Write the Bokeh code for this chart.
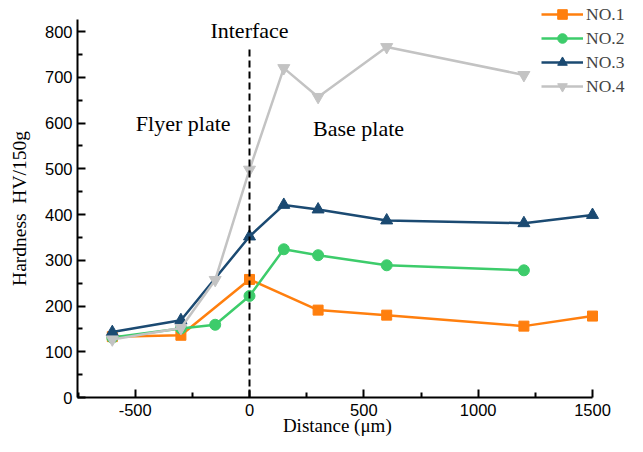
from bokeh.plotting import figure
from bokeh.models import Legend, LegendItem, FixedTicker, Range1d
from bokeh.core.properties import value
from bokeh.embed import file_html
from bokeh.resources import INLINE

# ---- data ----
x1 = [-600, -300, 0, 300, 600, 1200, 1500]
y1 = [133, 136, 258, 191, 180, 156, 178]

x2 = [-600, -300, -150, 0, 150, 300, 600, 1200]
y2 = [131, 151, 159, 222, 324, 311, 289, 278]

x3 = [-600, -300, 0, 150, 300, 600, 1200, 1500]
y3 = [143, 169, 352, 421, 411, 387, 381, 399]

x4 = [-600, -300, -150, 0, 150, 300, 600, 1200]
y4 = [127, 152, 257, 498, 720, 657, 766, 705]

series_names = ["NO.1", "NO.2", "NO.3", "NO.4"]
colors = ["#ff7f0e", "#3dcc6b", "#1b4a72", "#c3c3c3"]
markers = ["square", "circle", "triangle", "inverted_triangle"]
marker_sizes = [10, 11, 12, 12]

x_ticks = [-500, 0, 500, 1000, 1500]
x_tick_labels = ["-500", "0", "500", "1000", "1500"]
y_ticks = [0, 100, 200, 300, 400, 500, 600, 700, 800]
x_axis_bounds = (-752, 1500)
y_axis_bounds = (0, 826)

interface_x = [0, 0]
interface_y = [0, 762]

annot_text = ["Interface", "Flyer plate", "Base plate"]
annot_x = [0, -290, 477]
annot_y = [802, 599, 589]

# ---- layout (canvas-pixel mapping) ----
W, H = 627, 436
px0, px_per_x = 249.0, 343.0 / 1500.0     # x=0 at pixel 249, 1500 at 592
py0, py_per_y = 397.0, 366.0 / 800.0      # y=0 at pixel 397, 800 at 31

p = figure(width=W, height=H, output_backend="svg", toolbar_location=None,
           x_range=Range1d(-px0 / px_per_x, (W - px0) / px_per_x),
           y_range=Range1d(-(H - py0) / py_per_y, py0 / py_per_y),
           min_border_left=0, min_border_right=0, min_border_top=0, min_border_bottom=0)
p.outline_line_color = None
p.xgrid.grid_line_color = None
p.ygrid.grid_line_color = None
p.background_fill_color = "white"
p.border_fill_color = "white"

minor_x = [v for v in range(-750, 1501, 250) if v % 500 != 0]
minor_y = [v for v in range(50, 826, 100)]
p.xaxis.ticker = FixedTicker(ticks=x_ticks, minor_ticks=minor_x)
p.yaxis.ticker = FixedTicker(ticks=y_ticks, minor_ticks=minor_y)
p.xaxis.major_label_overrides = {t: l for t, l in zip(x_ticks, x_tick_labels)}
p.xaxis.fixed_location = 0
p.yaxis.fixed_location = x_axis_bounds[0]
p.xaxis.bounds = x_axis_bounds
p.yaxis.bounds = y_axis_bounds

for ax in (p.xaxis, p.yaxis):
    ax.axis_line_width = 2
    ax.axis_line_color = "black"
    ax.major_tick_in = 8
    ax.major_tick_out = 0
    ax.minor_tick_in = 5
    ax.minor_tick_out = 0
    ax.major_tick_line_width = 2
    ax.minor_tick_line_width = 2
    ax.major_label_text_font = "Liberation Sans"
    ax.major_label_text_font_size = "16.5px"
    ax.major_label_text_color = "black"
    ax.axis_label_text_font = "Liberation Serif"
    ax.axis_label_text_font_size = "19.5px"
    ax.axis_label_text_font_style = "normal"
    ax.axis_label_text_color = "black"

p.yaxis.axis_label = "Hardness\u00a0 HV/150g"
p.xaxis.major_label_standoff = 6
p.yaxis.major_label_standoff = 5
p.yaxis.axis_label_standoff = 12

# x-axis title drawn as text below the axis (kept inside the canvas)
p.text([(x_axis_bounds[0] + x_axis_bounds[1]) / 2 + 10], [-61], text=["Distance (\u03bcm)"],
       text_font=value("Liberation Serif"), text_font_size="19px",
       text_align="center", text_baseline="middle", text_color="black")

xs = [x1, x2, x3, x4]
ys = [y1, y2, y3, y4]
items = []
for name, xx, yy, c, m, s in zip(series_names, xs, ys, colors, markers, marker_sizes):
    r1 = p.line(xx, yy, line_color=c, line_width=2.5)
    r2 = p.scatter(xx, yy, marker=m, size=s, fill_color=c, line_color=c)
    items.append(LegendItem(label=name, renderers=[r1, r2]))

p.line(interface_x, interface_y, line_color="black", line_width=2, line_dash="7 4")

p.text(annot_x, annot_y, text=annot_text, text_font=value("Liberation Serif"),
       text_font_size="22px", text_align="center", text_baseline="middle", text_color="black")

legend = Legend(items=items, location=(541, 338), orientation="vertical",
                glyph_width=42, glyph_height=24, label_height=24, spacing=0,
                padding=0, margin=0, label_standoff=3,
                label_text_font="Liberation Serif", label_text_font_size="17.5px",
                border_line_color=None, background_fill_alpha=0)
p.add_layout(legend, "center")

open("out.html", "w").write(file_html(p, INLINE))
